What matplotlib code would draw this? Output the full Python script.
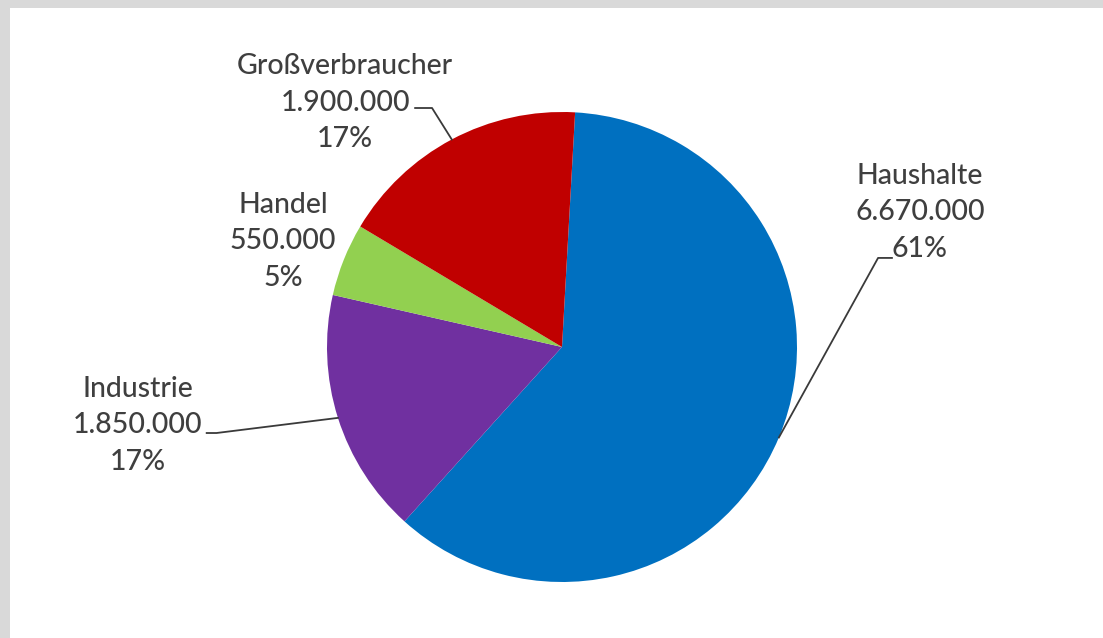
import matplotlib.pyplot as plt
import numpy as np
from matplotlib.patches import Rectangle

# Daten
labels = ['Haushalte', 'Industrie', 'Handel', 'Großverbraucher']
values = [6670000, 1850000, 550000, 1900000]
colors = ['#0070C0', '#7030A0', '#92D050', '#C00000']

# Label-Positionen (Datenkoordinaten, Kreismitte = 0,0 / Radius = 1)
label_pos = [(1.523, 0.574), (-1.804, -0.333), (-1.187, 0.45), (-0.923, 1.04)]
# Führungslinien: Ende am Text und Knickpunkt (None = keine Linie)
leader = [((1.404, 0.379), (1.345, 0.379)),
          ((-1.512, -0.366), (-1.47, -0.366)),
          None,
          ((-0.625, 1.017), (-0.553, 1.017))]

plt.rcParams['font.family'] = ['Lato', 'DejaVu Sans']

fig = plt.figure(figsize=(11.03, 6.38), dpi=100)
fig.patch.set_facecolor('#d9d9d9')

# weißer Innenbereich
fig.patches.append(Rectangle((10 / 1103, 0), 1, 1 - 8 / 638, transform=fig.transFigure,
                             facecolor='white', edgecolor='none', zorder=-10))

ax = fig.add_axes([0, 0, 1, 1])
ax.patch.set_alpha(0)

total = sum(values)
startangle = 86.8
wedges, _ = ax.pie(values, colors=colors, startangle=startangle, counterclock=False,
                   radius=1, center=(0, 0), frame=True)
ax.set_xlim(-562 / 235, (1103 - 562) / 235)
ax.set_ylim(-(638 - 347) / 235, 347 / 235)
ax.axis('off')

for w, lab, val, pos, ld in zip(wedges, labels, values, label_pos, leader):
    pct = round(val / total * 100)
    txt = '{}\n{}\n{}%'.format(lab, f'{val:,}'.replace(',', '.'), pct)
    ax.text(pos[0], pos[1], txt, ha='center', va='center', fontsize=20.5,
            color='#3f3f3f', linespacing=1.5, fontweight='medium')
    if ld is not None:
        mid = np.deg2rad((w.theta1 + w.theta2) / 2)
        edge = (np.cos(mid), np.sin(mid))
        xs = [ld[0][0], ld[1][0], edge[0]]
        ys = [ld[0][1], ld[1][1], edge[1]]
        ax.plot(xs, ys, color='#3a3a3a', lw=1.3, zorder=5)

fig.savefig('out.png', dpi=100, facecolor=fig.get_facecolor())
